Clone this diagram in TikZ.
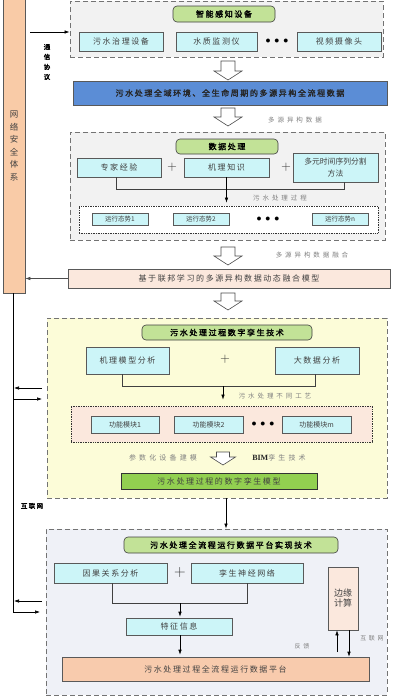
\documentclass[tikz,border=0pt]{standalone}
\usepackage{fontspec}
\usetikzlibrary{arrows.meta,calc}
\newfontfamily\cjk{Noto Sans CJK SC}[LetterSpace=20]
\newfontfamily\cjkw{Noto Sans CJK SC}[LetterSpace=45]
\newfontfamily\cjkb{Noto Sans CJK SC}[LetterSpace=20,FakeBold=2]
\newfontfamily\cjkn{Noto Sans CJK SC}
\newfontfamily\lserif{Liberation Serif}
\definecolor{peach}{HTML}{F9CBA7}
\definecolor{graybg}{HTML}{F2F2F2}
\definecolor{tgreen}{HTML}{C2E297}
\definecolor{cyanbox}{HTML}{CCF5F8}
\definecolor{bluebox}{HTML}{5B8DD6}
\definecolor{pinkbox}{HTML}{FBE8DD}
\definecolor{yellowbg}{HTML}{FCFCD8}
\definecolor{mgreen}{HTML}{92D050}
\definecolor{bluebg}{HTML}{EFF1F7}
\definecolor{salmon}{HTML}{F8CBAD}
\definecolor{labgray}{HTML}{808080}
\newcommand\harrow[6]{%
  \draw[hollowarrow] ({#1-#4},#2) -- ({#1+#4},#2) -- ({#1+#4},{#3-#6}) -- ({#1+#5},{#3-#6}) -- (#1,#3) -- ({#1-#5},{#3-#6}) -- ({#1-#4},{#3-#6}) -- cycle;}
\tikzset{
  sz/.style 2 args={minimum width=#1pt, minimum height=#2pt},
  dbox/.style={draw=black!55, dash pattern=on 5pt off 3pt, line width=0.9pt, fill=#1, inner sep=0pt},
  dotbox/.style={draw=black!80, densely dotted, line width=0.7pt, fill=#1, inner sep=0pt},
  gtitle/.style={draw=black!75, rounded corners=4pt, fill=tgreen, line width=0.6pt, font=\cjkb\fontsize{8}{9}\selectfont, inner sep=0pt},
  cbox/.style={draw=black!65, fill=cyanbox, line width=0.6pt, font=\cjk\fontsize{8}{10}\selectfont, text=black!75, inner sep=0pt, align=center},
  sbox/.style={cbox, font=\cjkn\fontsize{6.5}{8}\selectfont},
  plain/.style={draw=black!65, line width=0.6pt, fill=#1, font=\cjk\fontsize{8}{10}\selectfont, text=black!75, inner sep=0pt, align=center},
  glab/.style={font=\cjkw\fontsize{6.5}{8}\selectfont, text=labgray, inner sep=0pt},
  dots/.style={font=\fontsize{10}{10}\selectfont, inner sep=0pt},
  plus/.style={font=\fontsize{13}{13}\selectfont, inner sep=0pt, text=black!80},
  arr/.style={-{Latex[length=5pt,width=3.5pt]}, line width=0.6pt, black},
  conn/.style={line width=0.6pt, black!75},
  hollowarrow/.style={draw=black!70, fill=white, line width=0.6pt},
}
\begin{document}
\begin{tikzpicture}[x=1pt,y=-1pt]
\useasboundingbox[fill=white] (0,0) rectangle (400,699);

% left security box
\node[plain=peach, sz={22}{294}, font=\cjkn\fontsize{8.5}{12.5}\selectfont] (L) at (14,146) {网\\络\\安\\全\\体\\系};
\node[font=\cjkb\fontsize{6.5}{10}\selectfont, align=center, inner sep=0pt] (txy) at (47,62) {通\\信\\协\\议};

% top box
\node[dbox=graybg, sz={313}{56}] (T) at (226.5,29) {};
\node[gtitle, sz={102}{16}] (g1) at (224,14) {智能感知设备};
\node[cbox, sz={84}{19}] (c1) at (121,41.5) {污水治理设备};
\node[cbox, sz={81}{19}] (c2) at (216.5,41.5) {水质监测仪};
\node[dots] (d1) at (277,41) {$\bullet\,\bullet\,\bullet$};
\node[cbox, sz={84}{19}] (c3) at (339,41.5) {视频摄像头};
\coordinate (a0) at (30,32);
\draw[arr] (a0) -- (a0 -| T.west);

\harrow{228}{61}{80}{7}{14}{9}
\node[plain=bluebox, sz={314}{24}, font=\cjkb\fontsize{8}{10}\selectfont, text=black!85] (B) at (230,93) {污水处理全域环境、全生命周期的多源异构全流程数据};
\harrow{228}{108}{126}{7}{14}{9}
\node[glab] (l1) at (295,120) {多源异构数据};

% data processing box
\node[dbox=graybg, sz={315}{108}] (D) at (227.5,186) {};
\node[gtitle, sz={102}{15}] (g2) at (227,146.5) {数据处理};
\node[cbox, sz={84}{19}] (zj) at (119,167.5) {专家经验};
\node[plus] (p1) at (172,167) {+};
\node[cbox, sz={85}{19}] (jl) at (226.5,167.5) {机理知识};
\node[plus] (p2) at (286,167) {+};
\node[cbox, sz={85}{29}, font=\cjkn\fontsize{7.8}{12}\selectfont] (dy) at (335.5,167.5) {多元时间序列分割\\方法};
\node[dotbox=white, sz={299}{27}] (DB) at (228.5,219.5) {};
\node[sbox, sz={56}{12}] (s1) at (120,219) {运行态势1};
\node[sbox, sz={56}{12}] (s2) at (201,219) {运行态势2};
\node[dots] (d2) at (268,219) {$\bullet\,\bullet\,\bullet$};
\node[sbox, sz={56}{12}] (s3) at (340,219) {运行态势\textit{n}};
\coordinate (b1) at (116,189);
\coordinate (b1r) at (344,189);
\draw[conn] (b1 |- zj.south) -- (b1) -- (b1r) -- (b1r |- dy.south);
\draw[arr] (jl.south) -- ([yshift=3pt]DB.north -| jl.south);
\node[glab] (l2) at (280,198) {污水处理过程};

\harrow{228}{247}{265}{7}{14}{9}
\node[glab] (l3) at (312,255) {多源异构数据融合};
\node[plain=pinkbox, sz={322}{19}] (P) at (229,278.5) {基于联邦学习的多源异构数据动态融合模型};
\draw[arr, black!70] (P.west) -- (P.west -| L.east);
\harrow{228}{293}{310}{7}{14}{9}

% digital twin box
\node[dbox=yellowbg, sz={340}{180}] (Y) at (217,408) {};
\node[gtitle, sz={170}{15}] (g3) at (227,332.5) {污水处理过程数字孪生技术};
\node[cbox, sz={83}{27}] (jm) at (127.5,360.5) {机理模型分析};
\node[plus] (p3) at (225,359) {+};
\node[cbox, sz={84}{27}] (ds) at (317,360.5) {大数据分析};
\coordinate (b2) at (122,386);
\coordinate (b2r) at (315,386);
\draw[conn] (b2 |- jm.south) -- (b2) -- (b2r) -- (b2r |- ds.south);
\node[dotbox=pinkbox, sz={301}{36}] (DB2) at (221.5,424) {};
\coordinate (m1) at (223,386);
\draw[arr] (m1) -- ([yshift=6pt]DB2.north -| m1);
\node[glab] (l4) at (275,396) {污水处理不同工艺};
\node[sbox, sz={68}{17}, font=\cjkn\fontsize{7}{8}\selectfont] (f1) at (125,424.5) {功能模块1};
\node[sbox, sz={69}{17}, font=\cjkn\fontsize{7}{8}\selectfont] (f2) at (208.5,424.5) {功能模块2};
\node[dots] (d3) at (263,424) {$\bullet\,\bullet\,\bullet$};
\node[sbox, sz={69}{17}, font=\cjkn\fontsize{7}{8}\selectfont] (f3) at (316.5,424.5) {功能模块\textit{m}};
\node[glab, font=\cjkw\fontsize{7}{8}\selectfont] (l5) at (163,458) {参数化设备建模};
\harrow{223}{452}{465}{6.5}{12.5}{8}
\node[glab, font=\cjkw\fontsize{7}{8}\selectfont] (l6) at (279,458) {{\lserif\bfseries\fontsize{8}{8}\selectfont\color{black!85}BIM}孪生技术};
\node[plain=mgreen, sz={196}{16}, draw=black!80] (GM) at (219,481) {污水处理过程的数字孪生模型};

\node[font=\cjkb\fontsize{6.5}{8}\selectfont, inner sep=0pt] (hlw) at (32,506) {互联网};

% platform box
\node[dbox=bluebg, sz={341}{166}] (Z) at (216.5,612) {};
\coordinate (m0) at (226,498);
\draw[arr] (m0) -- (Z.north -| m0);
\node[gtitle, sz={214}{16}] (g4) at (231,545) {污水处理全流程运行数据平台实现技术};
\node[cbox, sz={113}{20}] (yg) at (110.5,573) {因果关系分析};
\node[plus, font=\fontsize{16}{16}\selectfont] (p4) at (180,573) {+};
\node[cbox, sz={112}{20}] (ls) at (247,573) {孪生神经网络};
\coordinate (b3) at (112,603);
\coordinate (b3r) at (247,603);
\draw[conn] (b3 |- yg.south) -- (b3) -- (b3r) -- (b3r |- ls.south);
\node[cbox, sz={106}{17}] (tz) at (179,626.5) {特征信息};
\coordinate (m2) at (180,603);
\draw[arr] (m2) -- ([yshift=1pt]tz.north -| m2);
\node[plain=salmon, sz={307}{24}] (PF) at (215.5,669) {污水处理过程全流程运行数据平台};
\draw[arr] (tz.south -| m2) -- ([yshift=2pt]PF.north -| m2);
\node[plain=pinkbox, sz={30}{63}, font=\cjkn\fontsize{9}{10}\selectfont] (E) at (343,598.5) {边缘\\计算};
\coordinate (e1) at (337,652);
\coordinate (e2) at (349,635);
\draw[arr] (e1) -- (e1 |- E.south) ;
\draw[arr] (e2 |- E.south) -- (e2 |- PF.north);
\node[glab, font=\cjkw\fontsize{6}{7}\selectfont] (l7) at (302,646) {反馈};
\node[glab, font=\cjkw\fontsize{6}{7}\selectfont] (l8) at (372,638) {互联网};

% left network line and arrows
\coordinate (v0) at (13,612);
\draw[conn, black] (L.south -| v0) -- (v0);
\draw[arr] (v0) -- (40,612);
\draw[arr] (13,399) -- (42,399);
\draw[arr] (42,388) -- (14,388);
\draw[arr] (42,601) -- (14,601);
\end{tikzpicture}
\end{document}
